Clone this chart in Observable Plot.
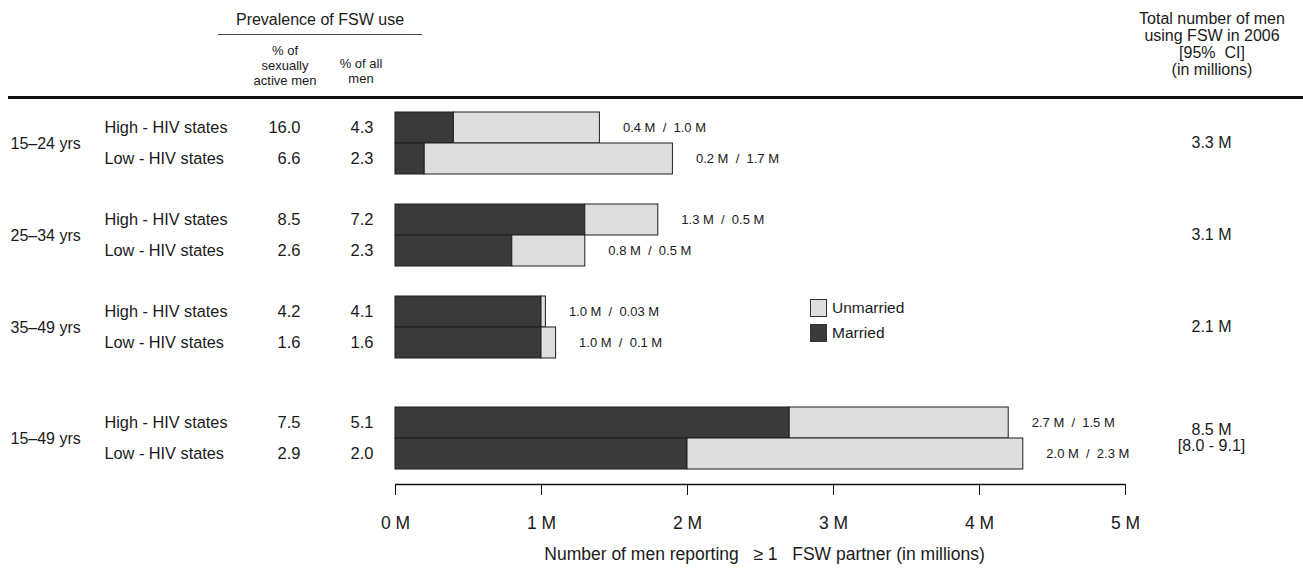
<!DOCTYPE html>
<html>
<head>
<meta charset="utf-8">
<script src="https://cdn.jsdelivr.net/npm/d3@7"></script>
<script src="https://cdn.jsdelivr.net/npm/@observablehq/plot@0.6"></script>
<style>
  body { margin: 0; background: #fff; font-family: "Liberation Sans", Arial, sans-serif; color: #1a1a1a; }
  #wrap { position: relative; width: 1303px; height: 573px; overflow: hidden; }
  .h { position: absolute; text-align: center; white-space: nowrap; }
  .big { font-size: 16px; line-height: 17px; }
  .small { font-size: 13px; line-height: 15px; }
  #rule1 { position: absolute; left: 218px; width: 204px; top: 34px; height: 1px; background: #444; }
  #rule2 { position: absolute; left: 8px; width: 1295px; top: 95.5px; height: 3px; background: #111; }
  #chart { position: absolute; left: 0; top: 100px; }
  #legend { position: absolute; left: 810px; top: 299px; font-size: 15.5px; }
  .item { display: flex; align-items: center; height: 17px; margin-bottom: 8px; }
  .sw { width: 15px; height: 16px; border: 1px solid #333; margin-right: 5px; box-sizing: content-box; }
</style>
</head>
<body>
<div id="wrap">
  <div class="h big" style="left:220px;width:200px;top:11px;">Prevalence of FSW use</div>
  <div id="rule1"></div>
  <div class="h small" style="left:235px;width:100px;top:42.5px;">% of<br>sexually<br>active men</div>
  <div class="h small" style="left:311px;width:100px;top:55.5px;">% of all<br>men</div>
  <div class="h big" style="left:1122px;width:180px;top:10px;">Total number of men<br>using FSW in 2006<br>[95%&nbsp;&nbsp;CI]<br>(in millions)</div>
  <div id="rule2"></div>
  <div id="chart"></div>
  <div id="legend"></div>
</div>
<script>
// ---- data ----
const ageGroups = ["15–24 yrs", "25–34 yrs", "35–49 yrs", "15–49 yrs"];
const states = ["High - HIV states", "Low - HIV states"];
const pctSexActive = [16.0, 6.6, 8.5, 2.6, 4.2, 1.6, 7.5, 2.9];
const pctAllMen = [4.3, 2.3, 7.2, 2.3, 4.1, 1.6, 5.1, 2.0];
const married = [0.4, 0.2, 1.3, 0.8, 1.0, 1.0, 2.7, 2.0];
const unmarried = [1.0, 1.7, 0.5, 0.5, 0.03, 0.1, 1.5, 2.3];
const totals = ["3.3 M", "3.1 M", "2.1 M", "8.5 M\n[8.0 - 9.1]"];
const xTicks = [0, 1, 2, 3, 4, 5];
const statusNames = ["Married", "Unmarried"];
const statusColors = ["#3a3a3a", "#dedede"];

// ---- layout (row units: one bar = 1) ----
const GAP = 30 / 31;           // gap between age groups
const SUMMARY_EXTRA = 19 / 31; // extra gap before the all-ages group
const Y_MAX = 12;
const groupTop = (g) => g * (2 + GAP) + (g === ageGroups.length - 1 ? SUMMARY_EXTRA : 0);

const rows = [];
ageGroups.forEach((age, g) => {
  states.forEach((st, s) => {
    const i = g * states.length + s;
    rows.push({
      i, age, state: st, top: groupTop(g) + s,
      active: pctSexActive[i], all: pctAllMen[i],
      m: married[i], u: unmarried[i], total: married[i] + unmarried[i]
    });
  });
});
const groups = ageGroups.map((age, g) => ({ age, center: groupTop(g) + 1, total: totals[g] }));

const segments = rows.flatMap(r => [
  { status: "Married", x1: 0, x2: r.m, y1: r.top, y2: r.top + 1 },
  { status: "Unmarried", x1: r.m, x2: r.m + r.u, y1: r.top, y2: r.top + 1 }
]);

const fmtM = v => (v < 0.1 ? v.toFixed(2) : v.toFixed(1)) + " M";
const sp = "\u00a0\u00a0";

const chart = Plot.plot({
  width: 1303,
  height: 473,
  marginLeft: 395,
  marginRight: 178,
  marginTop: 12,
  marginBottom: 89,
  x: { domain: [0, 5] },
  y: { domain: [0, Y_MAX], reverse: true, axis: null },
  color: { domain: statusNames, range: statusColors },
  style: { fontFamily: "'Liberation Sans', Arial, sans-serif", fontSize: "16px", color: "#1a1a1a", overflow: "visible" },
  marks: [
    Plot.rect(segments, { x1: "x1", x2: "x2", y1: "y1", y2: "y2", fill: "status", stroke: "#1e1e1e", strokeWidth: 1 }),
    // value labels
    Plot.text(rows, { x: "total", y: r => r.top + 0.5, text: r => fmtM(r.m) + sp + "/" + sp + fmtM(r.u), textAnchor: "start", dx: 23, fontSize: 13 }),
    // table columns
    Plot.text(groups, { frameAnchor: "left", y: "center", text: "age", textAnchor: "start", dx: -385, fontSize: 16 }),
    Plot.text(rows, { frameAnchor: "left", y: r => r.top + 0.5, text: "state", textAnchor: "start", dx: -291, fontSize: 16.3 }),
    Plot.text(rows, { frameAnchor: "left", y: r => r.top + 0.5, text: r => r.active.toFixed(1), textAnchor: "end", dx: -95, fontSize: 16.5 }),
    Plot.text(rows, { frameAnchor: "left", y: r => r.top + 0.5, text: r => r.all.toFixed(1), textAnchor: "end", dx: -22, fontSize: 16.5 }),
    // totals column
    Plot.text(groups, { frameAnchor: "right", y: "center", text: "total", textAnchor: "middle", dx: 86, dy: -1, fontSize: 16, lineHeight: 1.0 }),
    // axis
    Plot.ruleY([Y_MAX], { stroke: "#111", strokeWidth: 1.3 }),
    Plot.axisX({ ticks: xTicks, tickFormat: d => d + " M", tickSize: 11, tickPadding: 21, fontSize: 17.5, label: null, stroke: "#111" }),
    Plot.text(["Number of men reporting\u00a0\u00a0 ≥ 1\u00a0\u00a0 FSW partner (in millions)"], { frameAnchor: "bottom", text: d => d, dy: 75, dx: 4, fontSize: 17.5 })
  ]
});
document.getElementById("chart").appendChild(chart);

// legend (Unmarried first, as in the reference)
const legend = document.getElementById("legend");
[1, 0].forEach(k => {
  const item = document.createElement("div");
  item.className = "item";
  const sw = document.createElement("div");
  sw.className = "sw";
  sw.style.background = statusColors[k];
  const lab = document.createElement("span");
  lab.textContent = statusNames[k];
  item.appendChild(sw);
  item.appendChild(lab);
  legend.appendChild(item);
});
</script>
</body>
</html>
